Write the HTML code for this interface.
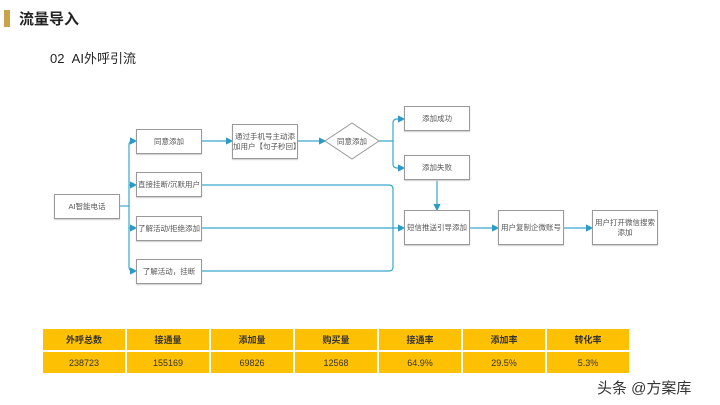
<!DOCTYPE html>
<html><head><meta charset="utf-8"><style>
body{margin:0;width:720px;height:405px;background:#fff;position:relative;overflow:hidden;font-family:"Liberation Sans","Noto Sans CJK SC",sans-serif;}
.b{position:absolute;border:1px solid #999;background:#fff;font-size:7.5px;color:#555;display:flex;align-items:center;justify-content:center;text-align:center;line-height:10px;box-sizing:border-box;box-shadow:0 1px 1px #ccc;}
table{position:absolute;left:41px;top:327px;border-collapse:separate;border-spacing:2px 2px;}
td{background:#fdc002;width:82px;height:21px;text-align:center;font-size:9px;color:#333;padding:0;}
tr:first-child td{font-weight:bold;}
</style></head><body>
<div style="position:absolute;left:4px;top:10px;width:6px;height:17px;background:#c9a24a"></div>
<div style="position:absolute;left:19px;top:8px;font-size:15px;font-weight:bold;color:#222">流量导入</div>
<div style="position:absolute;left:50px;top:48px;font-size:13px;color:#222">02&nbsp;&nbsp;AI外呼引流</div>
<svg style="position:absolute;left:0;top:0" width="720" height="405">
<defs><marker id="a" markerWidth="6" markerHeight="6" refX="5" refY="3" orient="auto"><path d="M0,0L6,3L0,6z" fill="#2a9bc4"/></marker></defs>
<g stroke="#3aa6cc" stroke-width="1.2" fill="none">
<path d="M119 206H129"/>
<path d="M129 145V267M129 145q0-4 4-4H136" marker-end="url(#a)"/>
<path d="M129 185H136" marker-end="url(#a)"/>
<path d="M129 228H136" marker-end="url(#a)"/>
<path d="M129 267q0 4 4 4H136" marker-end="url(#a)"/>
<path d="M201 141H232" marker-end="url(#a)"/>
<path d="M298 141H325" marker-end="url(#a)"/>
<path d="M378 141H393M393 123V164M393 123q0-4 4-4H404" marker-end="url(#a)"/>
<path d="M393 164q0 4 4 4H404" marker-end="url(#a)"/>
<path d="M437 180V210" marker-end="url(#a)"/>
<path d="M201 185H389q4 0 4 4V267q0 4-4 4H201"/>
<path d="M201 228H404" marker-end="url(#a)"/>
<path d="M469 228H498" marker-end="url(#a)"/>
<path d="M563 228H592" marker-end="url(#a)"/>
</g>
<polygon points="325,141 352,123 379,141 352,159" fill="#fff" stroke="#999"/>
<text x="352" y="144" font-size="7.5" fill="#555" text-anchor="middle">同意添加</text>
</svg>
<div class="b" style="left:54px;top:194px;width:66px;height:25px">AI智能电话</div>
<div class="b" style="left:136px;top:129px;width:66px;height:25px">同意添加</div>
<div class="b" style="left:136px;top:172px;width:66px;height:25px">直接挂断/沉默用户</div>
<div class="b" style="left:136px;top:216px;width:66px;height:25px">了解活动/拒绝添加</div>
<div class="b" style="left:136px;top:259px;width:66px;height:25px">了解活动，挂断</div>
<div class="b" style="left:232px;top:124px;width:66px;height:35px">通过手机号主动添加用户【句子秒回】</div>
<div class="b" style="left:404px;top:106px;width:66px;height:25px">添加成功</div>
<div class="b" style="left:404px;top:155px;width:66px;height:25px">添加失败</div>
<div class="b" style="left:404px;top:210px;width:66px;height:35px">短信推送引导添加</div>
<div class="b" style="left:498px;top:210px;width:66px;height:35px">用户复制企微账号</div>
<div class="b" style="left:592px;top:210px;width:66px;height:35px">用户打开微信搜索添加</div>
<table>
<tr><td>外呼总数</td><td>接通量</td><td>添加量</td><td>购买量</td><td>接通率</td><td>添加率</td><td>转化率</td></tr>
<tr><td>238723</td><td>155169</td><td>69826</td><td>12568</td><td>64.9%</td><td>29.5%</td><td>5.3%</td></tr>
</table>
<div style="position:absolute;left:597px;top:377px;font-size:15px;color:#333">头条 @方案库</div>
</body></html>
